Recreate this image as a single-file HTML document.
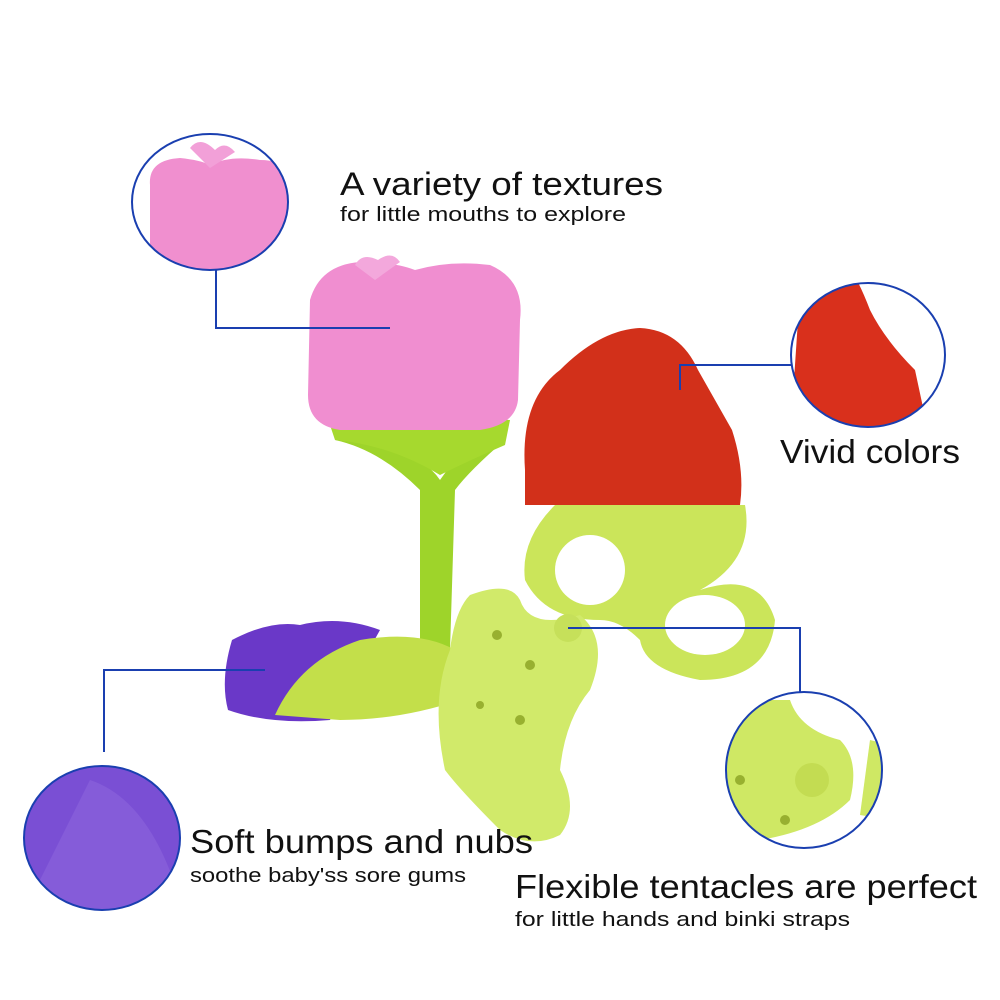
<!DOCTYPE html>
<html><head><meta charset="utf-8"><style>
body{margin:0;background:#fff}
svg{display:block}
text{font-family:"Liberation Sans",sans-serif;fill:#111}
</style></head><body>
<svg width="1000" height="1000" viewBox="0 0 1000 1000">
<defs>
<clipPath id="c1"><ellipse cx="210" cy="202" rx="78" ry="68"/></clipPath>
<clipPath id="c2"><ellipse cx="868" cy="355" rx="77" ry="72"/></clipPath>
<clipPath id="c3"><ellipse cx="102" cy="838" rx="78" ry="72"/></clipPath>
<clipPath id="c4"><ellipse cx="804" cy="770" rx="78" ry="78"/></clipPath>
</defs>
<g clip-path="url(#c1)"><rect x="130" y="130" width="180" height="150" fill="#fff"/>
<path d="M150 185 Q148 160 180 158 Q200 160 210 165 Q230 155 260 160 Q290 160 292 185 L292 270 L150 270 Z" fill="#f08fcf"/>
<path d="M190 148 Q200 135 215 150 Q225 140 235 152 L210 168 Z" fill="#f2a0d8"/></g>
<ellipse cx="210" cy="202" rx="78" ry="68" fill="none" stroke="#1a3fb0" stroke-width="2"/>
<g clip-path="url(#c2)"><rect x="780" y="270" width="180" height="170" fill="#fff"/>
<path d="M800 290 Q830 205 870 310 Q885 340 915 370 L930 440 L790 440 Z" fill="#d9301c"/></g>
<ellipse cx="868" cy="355" rx="77" ry="72" fill="none" stroke="#1a3fb0" stroke-width="2"/>
<g clip-path="url(#c3)"><rect x="20" y="760" width="170" height="160" fill="#7a4fd4"/>
<path d="M90 780 Q150 800 180 900 L180 920 L20 920 Z" fill="#8a62dc" opacity=".7"/></g>
<ellipse cx="102" cy="838" rx="78" ry="72" fill="none" stroke="#1a3fb0" stroke-width="2"/>
<g clip-path="url(#c4)"><rect x="720" y="690" width="170" height="170" fill="#fff"/>
<path d="M720 700 L790 700 Q800 730 840 740 Q860 760 850 800 Q820 830 760 840 L720 860 Z" fill="#cfe864"/>
<path d="M870 740 L890 745 L890 820 L860 815 Z" fill="#cfe864"/>
<circle cx="812" cy="780" r="17" fill="#c3dc52"/><circle cx="785" cy="820" r="5" fill="#98b030"/><circle cx="740" cy="780" r="5" fill="#98b030"/></g>
<ellipse cx="804" cy="770" rx="78" ry="78" fill="none" stroke="#1a3fb0" stroke-width="2"/>
<path d="M335 420 Q420 450 440 480 Q460 450 505 420 L505 440 Q470 470 455 490 L450 650 L420 650 L420 490 Q380 450 335 440 Z" fill="#9ed42a"/>
<path d="M330 425 Q400 420 420 405 L470 405 Q500 420 510 420 L505 445 Q470 460 440 475 Q390 445 335 440 Z" fill="#a6d92e"/>
<path d="M310 300 Q320 265 360 262 Q395 262 415 270 Q450 260 490 265 Q525 280 520 320 L518 400 Q515 425 480 430 L340 430 Q308 425 308 395 Z" fill="#f08ed0"/>
<path d="M355 265 Q362 252 378 260 Q392 250 400 262 L375 280 Z" fill="#f3a8dc"/>
<path d="M525 470 Q520 400 560 370 Q600 330 640 328 Q680 330 698 370 Q715 400 732 430 Q745 470 740 505 L525 505 Z" fill="#d2301a"/>
<path d="M555 505 L745 505 Q755 560 700 590 Q760 570 775 620 Q770 680 700 680 Q645 670 640 640 Q620 620 600 620 Q545 620 525 580 Q520 540 555 505 Z" fill="#cbe55a"/>
<ellipse cx="590" cy="570" rx="35" ry="35" fill="#fff"/>
<ellipse cx="705" cy="625" rx="40" ry="30" fill="#fff"/>
<path d="M232 640 Q270 620 300 625 Q340 615 380 630 L330 720 Q270 725 228 710 Q220 680 232 640 Z" fill="#6a38c8"/>
<path d="M275 715 Q300 660 360 640 Q420 630 455 650 L460 700 Q400 720 340 720 Z" fill="#c3df4a"/>
<path d="M470 595 Q510 580 520 600 Q530 630 580 615 Q610 640 590 690 Q565 720 560 770 Q580 810 560 835 Q530 850 500 830 Q460 790 445 770 Q430 700 450 650 Q455 610 470 595 Z" fill="#d1ea6a"/>
<circle cx="568" cy="628" r="14" fill="#c6e05a"/>
<circle cx="497" cy="635" r="5" fill="#98b030"/><circle cx="530" cy="665" r="5" fill="#98b030"/><circle cx="520" cy="720" r="5" fill="#98b030"/><circle cx="480" cy="705" r="4" fill="#98b030"/>
<g stroke="#1a3fb0" stroke-width="2" fill="none">
<polyline points="216,270 216,328 390,328"/>
<polyline points="680,390 680,365 792,365"/>
<polyline points="265,670 104,670 104,752"/>
<polyline points="568,628 800,628 800,692"/>
</g>
<text x="340" y="195" font-size="32" textLength="323" lengthAdjust="spacingAndGlyphs">A variety of textures</text>
<text x="340" y="221" font-size="20" textLength="286" lengthAdjust="spacingAndGlyphs">for little mouths to explore</text>
<text x="780" y="463" font-size="33" textLength="180" lengthAdjust="spacingAndGlyphs">Vivid colors</text>
<text x="190" y="853" font-size="33" textLength="343" lengthAdjust="spacingAndGlyphs">Soft bumps and nubs</text>
<text x="190" y="882" font-size="20" textLength="276" lengthAdjust="spacingAndGlyphs">soothe baby'ss sore gums</text>
<text x="515" y="898" font-size="33" textLength="462" lengthAdjust="spacingAndGlyphs">Flexible tentacles are perfect</text>
<text x="515" y="926" font-size="20" textLength="335" lengthAdjust="spacingAndGlyphs">for little hands and binki straps</text>
</svg>
</body></html>
